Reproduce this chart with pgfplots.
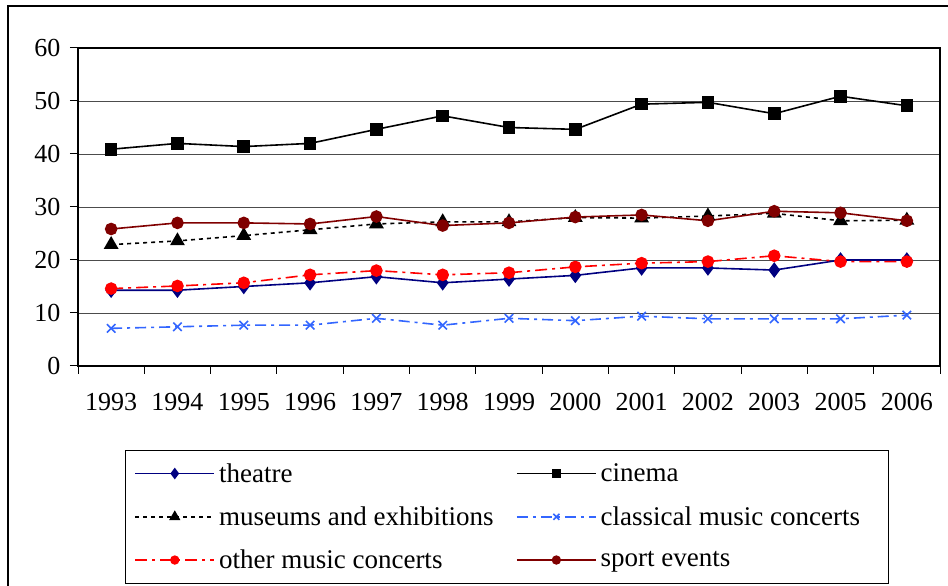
\documentclass[border=0pt]{standalone}
\usepackage{pgfplots}
\pgfplotsset{compat=1.18}
\usepackage{fontspec}
\setmainfont{Liberation Serif}
\definecolor{navy}{RGB}{0,0,128}
\definecolor{cblue}{RGB}{51,102,255}
\definecolor{dred}{RGB}{128,0,0}
\newcommand{\legtxt}[1]{\makebox[275pt][l]{#1}}
\begin{document}
\begin{tikzpicture}[x=1pt,y=1pt]
\useasboundingbox (0,0) rectangle (948,586);
\draw[line width=1.5pt] (8,-5) -- (8,580) -- (953,580);
\begin{axis}[at={(78pt,220pt)}, anchor=south west, scale only axis,
  width=862pt, height=318pt,
  xmin=-0.5, xmax=12.5, ymin=0, ymax=60, ytick={0,10,...,60},
  xtick={-0.5,0.5,...,12.5}, xticklabels={},
  extra x ticks={0,...,12},
  extra x tick labels={1993,1994,1995,1996,1997,1998,1999,2000,2001,2002,2003,2005,2006},
  extra x tick style={major tick length=0pt},
  tick pos=left,
  tick align=outside, major tick length=8pt,
  tick style={black, line width=1pt},
  ymajorgrids, grid style={black!70, line width=0.8pt},
  axis line style={line width=1.2pt},
  tick label style={font=\fontsize{26}{30}\selectfont},
  xticklabel style={yshift=-24pt},
  yticklabel style={xshift=-6pt},
  /pgf/number format/assume math mode=true,
  legend columns=2, legend cell align=left,
  legend image code/.code={\draw[mark repeat=2,mark phase=2,#1,every mark/.append style={scale=0.7}] plot coordinates {(0pt,0pt) (39.5pt,0pt) (79pt,0pt)};},
  legend style={at={(0.0545,-0.264)}, anchor=north west, draw=black, line width=1pt,
    font=\fontsize{27}{30}\selectfont, inner xsep=9pt, inner ysep=11pt,
    row sep=19pt,
    nodes={inner xsep=4pt},
    /tikz/every even column/.append style={column sep=18pt}},
]
\addplot[navy, line width=1.6pt, mark=diamond*, mark size=6.5pt, mark options={solid}] coordinates {
(0,14.3)(1,14.3)(2,15.0)(3,15.7)(4,16.85)(5,15.7)(6,16.4)(7,17.1)(8,18.5)(9,18.5)(10,18.1)(11,20.0)(12,20.0)};
\addlegendentry{\legtxt{theatre}}
\addplot[black, line width=1.6pt, mark=square*, mark size=5.5pt, mark options={solid}] coordinates {
(0,40.9)(1,42.0)(2,41.4)(3,42.0)(4,44.65)(5,47.2)(6,45.0)(7,44.65)(8,49.4)(9,49.75)(10,47.6)(11,50.9)(12,49.1)};
\addlegendentry{\legtxt{cinema}}
\addplot[black, line width=1.6pt, dash pattern=on 4pt off 4pt, mark=triangle*, mark size=7pt, mark options={solid}] coordinates {
(0,22.9)(1,23.6)(2,24.6)(3,25.7)(4,26.8)(5,27.2)(6,27.2)(7,28.0)(8,27.9)(9,28.3)(10,28.8)(11,27.4)(12,27.5)};
\addlegendentry{\legtxt{museums and exhibitions}}
\addplot[cblue, line width=1.6pt, dash pattern=on 11pt off 5pt on 3pt off 5pt, mark=x, mark size=6pt, mark options={solid, line width=1.6pt}] coordinates {
(0,7.1)(1,7.4)(2,7.7)(3,7.7)(4,9.0)(5,7.7)(6,9.0)(7,8.55)(8,9.4)(9,8.9)(10,8.9)(11,8.9)(12,9.6)};
\addlegendentry{\legtxt{classical music concerts}}
\addplot[red, line width=1.6pt, dash pattern=on 12pt off 5pt on 3pt off 5pt, mark=*, mark size=5.5pt, mark options={solid}] coordinates {
(0,14.6)(1,15.1)(2,15.7)(3,17.2)(4,18.0)(5,17.2)(6,17.6)(7,18.7)(8,19.4)(9,19.7)(10,20.8)(11,19.7)(12,19.7)};
\addlegendentry{\legtxt{other music concerts}}
\addplot[dred, line width=1.6pt, mark=*, mark size=5.5pt, mark options={solid}] coordinates {
(0,25.85)(1,27.0)(2,27.0)(3,26.8)(4,28.2)(5,26.5)(6,27.0)(7,28.1)(8,28.5)(9,27.4)(10,29.2)(11,28.9)(12,27.4)};
\addlegendentry{\legtxt{sport events}}
\end{axis}
\end{tikzpicture}
\end{document}
